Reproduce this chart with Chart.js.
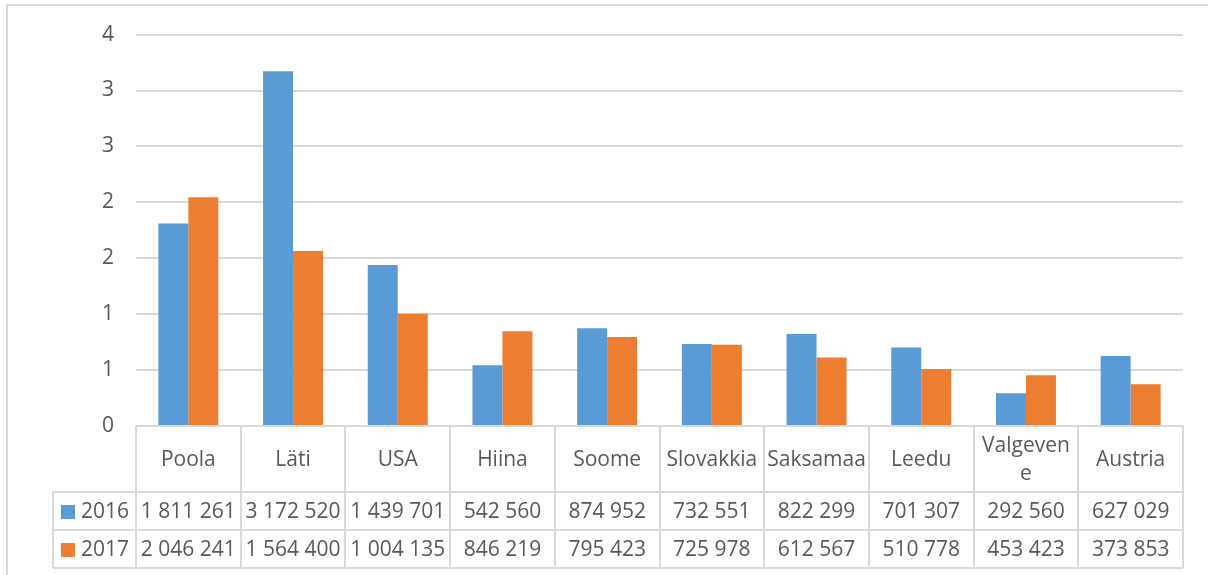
<!DOCTYPE html>
<html>
<head>
<meta charset="utf-8">
<script src="https://cdn.jsdelivr.net/npm/chart.js@4/dist/chart.umd.min.js"></script>
<style>
  html, body { margin: 0; padding: 0; background: #fff; }
  #wrap { width: 1208px; height: 575px; position: relative; }
</style>
</head>
<body>
<div id="wrap"><canvas id="chart" width="1208" height="575"></canvas></div>
<script>
const countries = ['Poola', 'Läti', 'USA', 'Hiina', 'Soome', 'Slovakkia', 'Saksamaa', 'Leedu', ['Valgeven', 'e'], 'Austria'];
const seriesNames = ['2016', '2017'];
const values2016 = [1811261, 3172520, 1439701, 542560, 874952, 732551, 822299, 701307, 292560, 627029];
const values2017 = [2046241, 1564400, 1004135, 846219, 795423, 725978, 612567, 510778, 453423, 373853];
const colors = ['#5b9bd5', '#ed7d31'];

const FONT = '"Open Sans", "Liberation Sans", sans-serif';
const TEXT = '#595959';
const LINE = '#d9d9d9';

// numbers in the table use a space as thousands separator
function fmt(n) {
  return String(n).replace(/\B(?=(\d{3})+(?!\d))/g, ' ');
}

// Excel-like data table under the plot
const dataTable = {
  id: 'dataTable',
  afterDraw(chart) {
    const ctx = chart.ctx;
    const x = chart.scales.x;
    const area = chart.chartArea;
    const n = countries.length;
    const colW = (area.right - area.left) / n;
    const top = area.bottom;
    const rowY = [top, 492, 530, 568];
    const keyLeft = 53;

    ctx.save();
    ctx.strokeStyle = LINE;
    ctx.lineWidth = 2;
    ctx.beginPath();
    // horizontal lines
    ctx.moveTo(area.left, rowY[0]); ctx.lineTo(area.right, rowY[0]);
    for (let r = 1; r < rowY.length; r++) {
      ctx.moveTo(keyLeft, rowY[r]); ctx.lineTo(area.right, rowY[r]);
    }
    // vertical lines
    ctx.moveTo(keyLeft, rowY[1]); ctx.lineTo(keyLeft, rowY[3]);
    for (let i = 0; i <= n; i++) {
      const cx = Math.round(area.left + i * colW);
      ctx.moveTo(cx, rowY[0]); ctx.lineTo(cx, rowY[3]);
    }
    ctx.stroke();

    ctx.fillStyle = TEXT;
    ctx.font = '21px ' + FONT;
    ctx.textAlign = 'center';
    ctx.textBaseline = 'middle';
    countries.forEach((c, i) => {
      const cx = x.getPixelForValue(i);
      if (Array.isArray(c)) {
        ctx.fillText(c[0], cx, 446);
        ctx.fillText(c[1], cx, 474);
      } else {
        ctx.fillText(c, cx, 460);
      }
    });

    const rows = [values2016, values2017];
    rows.forEach((vals, r) => {
      const cy = (rowY[r + 1] + rowY[r + 2]) / 2 + 1;
      vals.forEach((v, i) => {
        ctx.fillText(fmt(v), x.getPixelForValue(i), cy);
      });
      ctx.fillStyle = colors[r];
      ctx.fillRect(61, cy - 7, 14, 14);
      ctx.fillStyle = TEXT;
      ctx.textAlign = 'left';
      ctx.fillText(seriesNames[r], 81, cy);
      ctx.textAlign = 'center';
    });

    // outer chart border
    ctx.lineWidth = 2;
    ctx.strokeRect(7, 5, 1220, 600);
    ctx.restore();
  }
};

new Chart(document.getElementById('chart'), {
  type: 'bar',
  data: {
    labels: countries,
    datasets: [
      { label: seriesNames[0], data: values2016, backgroundColor: colors[0] },
      { label: seriesNames[1], data: values2017, backgroundColor: colors[1] }
    ]
  },
  options: {
    responsive: false,
    animation: false,
    layout: { padding: { left: 0, right: 25, top: 34, bottom: 149 } },
    datasets: { bar: { categoryPercentage: 0.573, barPercentage: 1 } },
    plugins: { legend: { display: false }, tooltip: { enabled: false } },
    scales: {
      x: { display: false },
      y: {
        min: 0, max: 3500000,
        afterFit(scale) { scale.width = 136; },
        border: { display: false },
        grid: { color: LINE, lineWidth: 2, drawTicks: false },
        ticks: {
          stepSize: 500000,
          padding: 22,
          color: TEXT,
          font: { size: 21, family: FONT },
          callback: (v) => String(Math.round(v / 1000000))
        }
      }
    }
  },
  plugins: [dataTable]
});
</script>
</body>
</html>
